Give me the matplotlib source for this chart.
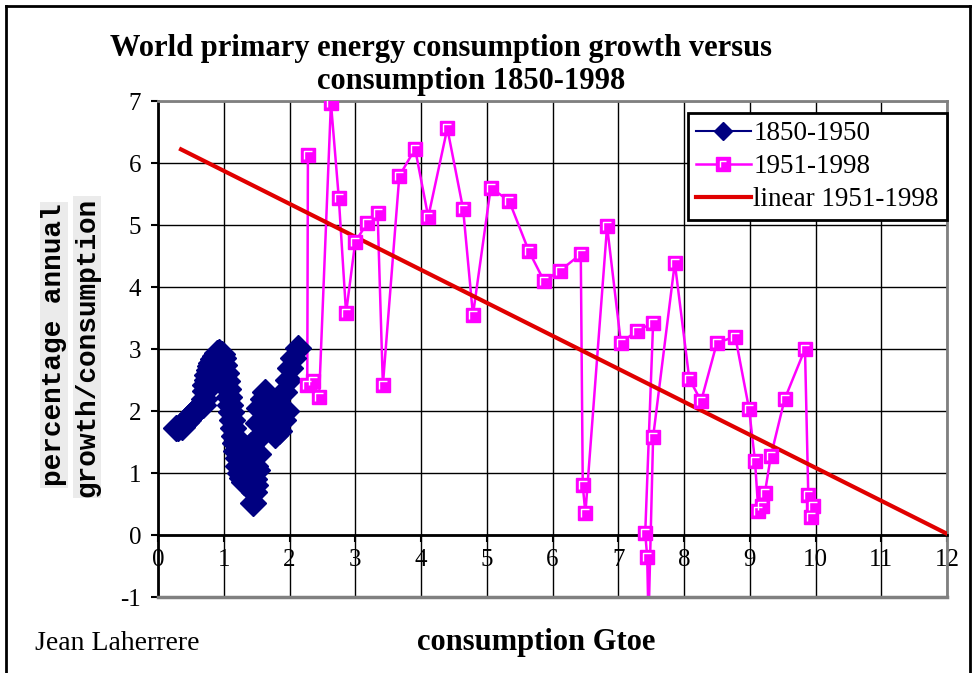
import matplotlib
matplotlib.use('Agg')
import matplotlib.pyplot as plt
from matplotlib.lines import Line2D
from matplotlib.path import Path

plt.rcParams['font.family'] = 'Liberation Serif'
plt.rcParams['axes.unicode_minus'] = False

# 1850-1950 : consumption (Gtoe) and growth/consumption (%)
x_old = [0.28, 0.31, 0.34, 0.37, 0.40, 0.42, 0.45, 0.47, 0.50, 0.52, 0.55, 0.57, 0.60, 0.62, 0.65, 0.68,
         0.70, 0.71, 0.72, 0.74, 0.75, 0.77, 0.79, 0.81, 0.84, 0.87, 0.90, 0.93,
         0.97, 0.99, 1.01, 1.03, 1.05, 1.06, 1.08, 1.09, 1.11, 1.12, 1.14, 1.15, 1.17, 1.19, 1.21, 1.22, 1.24,
         1.27, 1.31, 1.34, 1.37, 1.39, 1.36, 1.41, 1.45, 1.48, 1.46, 1.46, 1.45, 1.48, 1.50, 1.52, 1.50,
         1.52, 1.54, 1.59, 1.63, 1.68, 1.67, 1.72, 1.78, 1.84, 1.90, 1.95, 1.92, 1.97, 2.00, 2.06, 2.13]
y_old = [1.72, 1.73, 1.76, 1.75, 1.80, 1.82, 1.86, 1.88, 1.93, 1.95, 1.98, 2.00, 2.03, 2.05, 2.08, 2.10,
         2.20, 2.32, 2.42, 2.50, 2.58, 2.66, 2.72, 2.78, 2.84, 2.88, 2.93, 2.95,
         2.92, 2.85, 2.75, 2.62, 2.48, 2.35, 2.22, 2.10, 1.98, 1.85, 1.72, 1.60, 1.48, 1.36, 1.24, 1.12, 1.00,
         0.92, 0.86, 0.95, 1.05, 1.20, 1.35, 1.45, 1.30, 1.12, 0.90, 0.69, 0.52, 0.80, 1.05, 1.30, 1.55,
         1.80, 2.05, 2.20, 2.30, 2.15, 1.95, 1.75, 1.62, 1.68, 1.85, 2.00, 2.30, 2.50, 2.69, 2.86, 3.02]

# 1951-1998
x_new = [2.28, 2.27, 2.36, 2.45, 2.63, 2.75, 2.86, 3.00, 3.18, 3.34, 3.42, 3.67, 3.91, 4.11, 4.40, 4.64,
         4.79, 5.06, 5.34, 5.64, 5.87, 6.11, 6.43, 6.46, 6.50, 6.83, 7.04, 7.28, 7.53, 7.41, 7.44, 7.46,
         7.53, 7.86, 8.08, 8.26, 8.50, 8.78, 8.99, 9.08, 9.13, 9.19, 9.23, 9.32, 9.53, 9.84, 9.89, 9.93, 9.96]
y_new = [6.13, 2.42, 2.48, 2.23, 6.97, 5.43, 3.58, 4.73, 5.03, 5.19, 2.42, 5.79, 6.23, 5.13, 6.56, 5.26,
         3.55, 5.60, 5.39, 4.58, 4.10, 4.26, 4.53, 0.80, 0.35, 4.98, 3.10, 3.29, 3.42, 0.03, -0.35, -1.40,
         1.58, 4.39, 2.52, 2.16, 3.10, 3.20, 2.03, 1.19, 0.39, 0.47, 0.68, 1.27, 2.19, 3.00, 0.65, 0.29, 0.47]

# linear trend 1951-1998 (end points)
trend_x = [0.35, 12.0]
trend_y = [6.22, 0.02]

labels = ['1850-1950', '1951-1998', 'linear 1951-1998']

navy = '#000080'
mag = '#ff00ff'
red = '#e00000'
gray = '#808080'

fig = plt.figure(figsize=(9.76, 6.73), dpi=100)
ax = fig.add_axes([0.1619, 0.1129, 0.8084, 0.737])

ax.plot(x_old, y_old, color=navy, lw=1.5, marker='D', ms=13, mfc=navy, mec=navy, zorder=3)
ax.plot(x_new, y_new, color=mag, lw=1.8, zorder=2)
ax.plot(trend_x, trend_y, color=red, lw=3, zorder=3)
ax.plot(x_new, y_new, ls='none', marker='s', ms=10.5, mfc=mag, mec=mag, zorder=4)
corner = Path([(-1, -1), (-1, 1), (1, 1)], [Path.MOVETO, Path.LINETO, Path.LINETO])
ax.plot(x_new, y_new, ls='none', marker=corner, ms=5.5, mfc='none', mec='white', mew=1, zorder=5)

ax.set_xlim(0, 12)
ax.set_ylim(-1, 7)
ax.set_xticks(range(0, 13))
ax.set_yticks(range(-1, 8))
ax.grid(True, color='black', lw=1)
ax.set_axisbelow(True)

ax.spines['bottom'].set_position(('data', 0))
ax.spines['bottom'].set_color('black')
ax.spines['bottom'].set_linewidth(2)
ax.spines['left'].set_color('black')
ax.spines['left'].set_linewidth(2)
for s in ['top', 'right']:
    ax.spines[s].set_color(gray)
    ax.spines[s].set_linewidth(2)
ax.axhline(-1, color=gray, lw=2.5, clip_on=False, zorder=6)

ax.tick_params(axis='x', direction='out', length=5, width=1.5, labelsize=18, pad=5)
ax.tick_params(axis='y', direction='out', length=5, width=1.5, labelsize=18, pad=7)

# legend
h1 = Line2D([], [], color=navy, lw=1.5, marker='D', ms=9, mfc=navy, mec=navy)
h2 = Line2D([], [], color=mag, lw=1.8, marker='s', ms=10, mfc=mag, mec=mag)
h2c = Line2D([], [], ls='none', marker=corner, ms=5, mfc='none', mec='white', mew=1)
h3 = Line2D([], [], color=red, lw=3)
leg = ax.legend([h1, (h2, h2c), h3], labels, loc='upper left', bbox_to_anchor=(0.672, 0.976),
                fontsize=19.5, frameon=True, fancybox=False, edgecolor='black', framealpha=1,
                borderpad=0.3, labelspacing=0.3, handlelength=2.0, handletextpad=0.1,
                borderaxespad=0)
leg.get_frame().set_linewidth(2)

# titles and labels
fig.text(441 / 976, 1 - 56 / 673, 'World primary energy consumption growth versus',
         ha='center', va='baseline', fontsize=22, fontweight='bold')
fig.text(471 / 976, 1 - 89 / 673, 'consumption 1850-1998',
         ha='center', va='baseline', fontsize=22, fontweight='bold')
fig.text(536 / 976, 1 - 650 / 673, 'consumption Gtoe', ha='center', va='baseline',
         fontsize=22, fontweight='bold')
fig.text(35 / 976, 1 - 650 / 673, 'Jean Laherrere', ha='left', va='baseline', fontsize=20)

fig.text(54 / 976, 1 - 345 / 673, 'percentage annual', rotation=90, ha='center', va='center',
         fontsize=20, fontweight='bold', family='Liberation Mono',
         bbox=dict(facecolor='#ebebeb', edgecolor='none', pad=1))
fig.text(87 / 976, 1 - 347 / 673, 'growth/consumption', rotation=90, ha='center', va='center',
         fontsize=20, fontweight='bold', family='Liberation Mono',
         bbox=dict(facecolor='#ebebeb', edgecolor='none', pad=1))

# outer frame
fig.add_artist(Line2D([0.006, 0.006], [0, 0.991], transform=fig.transFigure, color='black', lw=2))
fig.add_artist(Line2D([0.006, 0.994], [0.991, 0.991], transform=fig.transFigure, color='black', lw=2))
fig.add_artist(Line2D([0.994, 0.994], [0.991, 0.0], transform=fig.transFigure, color='black', lw=2))

fig.savefig('out.png', dpi=100)
